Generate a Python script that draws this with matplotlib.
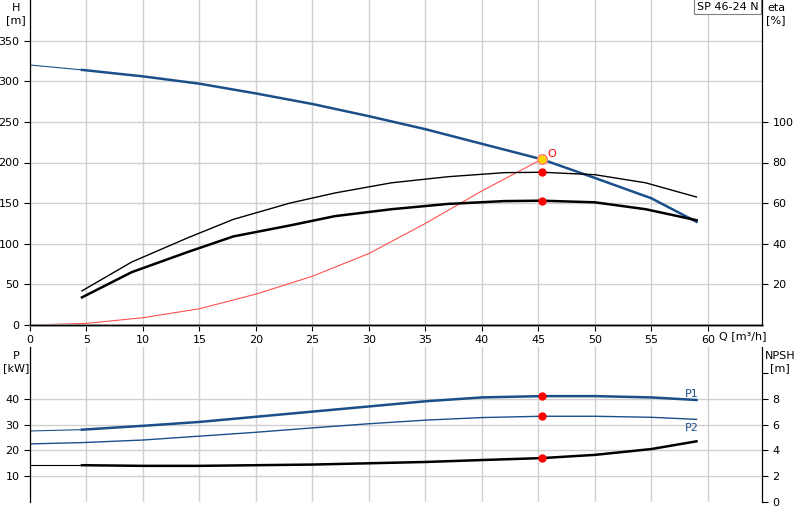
import matplotlib
matplotlib.use("Agg")
import matplotlib.pyplot as plt

Q_H = [0, 4.6, 10, 15, 20, 25, 30, 35, 40, 45.3, 50, 55, 59]
H = [320, 314, 306, 297, 285, 272, 257, 241, 223, 204, 181, 156, 127]
Q_eta = [4.6, 9, 14, 18, 23, 27, 32, 37, 42, 45.3, 50, 54.5, 59]
eta_top = [16.8, 31, 43, 52, 60, 65, 70, 73, 75, 75.2, 74, 70, 63]
eta_bot = [13.6, 26, 36, 43.6, 49, 53.6, 57, 59.6, 61, 61.2, 60.4, 57, 51.6]
Q_sys = [0, 5, 10, 15, 20, 25, 30, 35, 40, 45.3]
H_sys = [0, 2, 9, 20, 38, 60, 88, 125, 165, 204]
Q_P = [0, 4.6, 10, 15, 20, 25, 30, 35, 40, 45.3, 50, 55, 59]
P1 = [27.5, 28, 29.5, 31, 33, 35, 37, 39, 40.5, 41, 41, 40.5, 39.5]
P2 = [22.5, 23, 24, 25.5, 27, 28.7, 30.3, 31.7, 32.7, 33.2, 33.2, 32.8, 32]
NPSH = [2.85, 2.85, 2.8, 2.8, 2.85, 2.9, 3.0, 3.1, 3.25, 3.4, 3.65, 4.1, 4.7]
Qd, Hd, eta1d, eta2d = 45.3, 204, 75.2, 61.2
P1d, P2d, NPd = 41, 33.2, 3.4

blue = "#1a4f8a"
fig = plt.figure(figsize=(8, 5.2), dpi=100)
ax = fig.add_axes([0.0375, 0.375, 0.915, 0.625])
axr = ax.twinx()
xmax = 64.8
for a in (ax, axr):
    a.set_xlim(0, xmax)
ax.set_ylim(0, 400)
axr.set_ylim(0, 160)
ax.set_xticks(range(0, 61, 5))
ax.set_yticks(range(0, 351, 50))
axr.set_yticks(range(20, 101, 20))
ax.grid(True, color="#d0d0d0", lw=1)
ax.tick_params(labelsize=8, length=4, direction="out")
axr.tick_params(labelsize=8, length=4)
ax.spines["top"].set_visible(False); axr.spines["top"].set_visible(False)
ax.spines["bottom"].set_color("#909090"); ax.spines["bottom"].set_linewidth(2)

ax.plot(Q_H[:2], H[:2], color=blue, lw=0.8)
ax.plot(Q_H[1:], H[1:], color=blue, lw=1.8)
ax.plot(Q_sys, H_sys, color="#ff5050", lw=0.8)
axr.plot(Q_eta, eta_top, color="black", lw=1)
axr.plot(Q_eta, eta_bot, color="black", lw=1.8)
axr.plot([Qd, Qd], [eta1d, eta2d], 'o', color="red", ms=5, ls="none")
ax.plot([Qd], [Hd], 'o', color="#ffd700", mec="#ff8080", ms=7)
ax.text(Qd + 0.5, Hd + 3, "O", color="red", fontsize=8)
fig.text(0.02, 0.995, "H\n[m]", fontsize=8, ha="center", va="top", linespacing=1.3)
fig.text(0.97, 0.995, "eta\n[%]", fontsize=8, ha="center", va="top", linespacing=1.3)
ax.text(61, -7, "Q [m³/h]", fontsize=8, va="top")
ax.text(0.995, 0.995, "SP 46-24 N", transform=ax.transAxes, fontsize=8, ha="right", va="top",
        bbox=dict(facecolor="white", edgecolor="#808080", lw=0.8, pad=2))

bx = fig.add_axes([0.0375, 0.0346, 0.915, 0.298])
bxr = bx.twinx()
for a in (bx, bxr):
    a.set_xlim(0, xmax)
bx.set_ylim(0, 60)
bxr.set_ylim(0, 12)
bx.set_xticks(range(0, 61, 5))
bx.tick_params(axis="x", length=0, labelbottom=False)
bx.set_yticks(range(10, 41, 10))
bxr.set_yticks([0, 2, 4, 6, 8, 10])
bxr.set_yticklabels(["0", "2", "4", "6", "8", ""])
bx.grid(True, color="#d0d0d0", lw=1)
bx.tick_params(axis="y", labelsize=8, length=4)
bxr.tick_params(labelsize=8, length=4)
for a in (bx, bxr):
    a.spines["top"].set_visible(False)
    a.spines["bottom"].set_visible(False)
bx.plot(Q_P[:2], P1[:2], color=blue, lw=0.8)
bx.plot(Q_P[1:], P1[1:], color=blue, lw=1.8)
bx.plot(Q_P, P2, color=blue, lw=1)
bxr.plot(Q_P[:2], NPSH[:2], color="black", lw=0.8)
bxr.plot(Q_P[1:], NPSH[1:], color="black", lw=1.8)
bx.plot([Qd, Qd], [P1d, P2d], 'o', color="red", ms=5, ls="none")
bxr.plot([Qd], [NPd], 'o', color="red", ms=5)
bx.text(58, P1[-1] + 1, "P1", color=blue, fontsize=8)
bx.text(58, P2[-1] - 4.5, "P2", color=blue, fontsize=8)
fig.text(0.02, 0.325, "P\n[kW]", fontsize=8, ha="center", va="top", linespacing=1.3)
fig.text(0.975, 0.325, "NPSH\n[m]", fontsize=8, ha="center", va="top", linespacing=1.3)
fig.savefig("out.png", dpi=100)
